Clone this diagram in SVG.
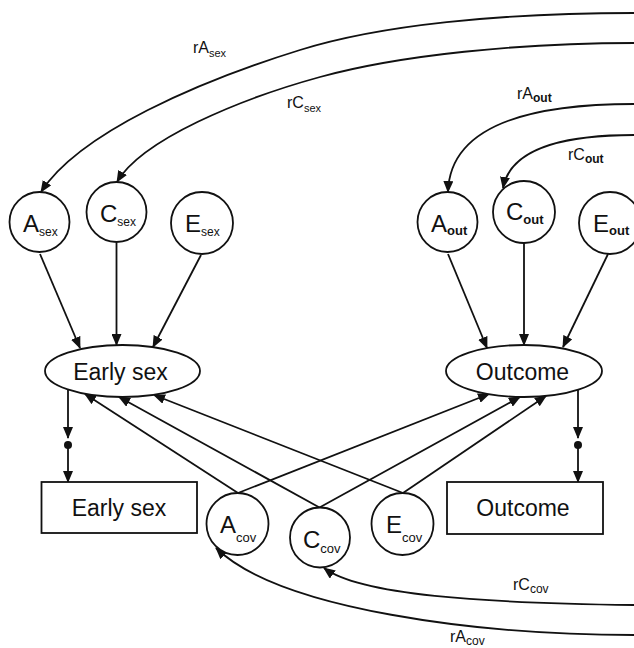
<svg xmlns="http://www.w3.org/2000/svg" width="634" height="648" viewBox="0 0 634 648">
<defs>
<marker id="ah" markerUnits="userSpaceOnUse" markerWidth="12" markerHeight="10" viewBox="0 0 12 10" refX="11" refY="5" orient="auto">
<path d="M0,0 L12,5 L0,10 Z" fill="#111"/>
</marker>
</defs>
<style>
.nd{fill:#fff;stroke:#111;stroke-width:1.8}
.ln{fill:none;stroke:#111;stroke-width:1.8;marker-end:url(#ah)}
.t{font-family:"Liberation Sans",Arial,sans-serif;fill:#111}
.big{font-size:23px}
.nl{font-size:24px}
.sub{font-size:12px}
.subb{font-size:13px;font-weight:bold}
.subc{font-size:13px}
.lab{font-size:16px}
.ls{font-size:11px}
.lo{font-size:12px;font-weight:bold}
.lc{font-size:12px}
</style>

<g id="connectors">
<path class="ln" d="M634,13 C500,13 380,25 300,50 C200,81 79.5,132.5 41,192"/>
<path class="ln" d="M634,43 C520,43 400,55 320,77 C240,99 142,139.5 117,182"/>
<path class="ln" d="M634,104 C530,104 450,125 448,192"/>
<path class="ln" d="M634,135 C560,135 510,150 503,188"/>
<path class="ln" d="M634,605 C480,603 360,595 324,568"/>
<path class="ln" d="M634,635 C480,635 280,610 216,548"/>
<line class="ln" x1="40" y1="254" x2="80" y2="348"/>
<line class="ln" x1="116.5" y1="243" x2="116.5" y2="345"/>
<line class="ln" x1="201" y1="255" x2="153" y2="347"/>
<line class="ln" x1="448" y1="254" x2="487" y2="348"/>
<line class="ln" x1="524" y1="243" x2="524" y2="345"/>
<line class="ln" x1="608" y1="254" x2="563" y2="347"/>
<line class="ln" x1="238" y1="493" x2="85" y2="394"/>
<line class="ln" x1="238" y1="493" x2="489" y2="394"/>
<line class="ln" x1="319.5" y1="507.5" x2="119" y2="397"/>
<line class="ln" x1="319.5" y1="507.5" x2="520" y2="397"/>
<line class="ln" x1="403" y1="493" x2="154" y2="395"/>
<line class="ln" x1="403" y1="493" x2="546" y2="396"/>
<line class="ln" x1="68" y1="389.5" x2="68" y2="438"/>
<circle cx="68" cy="445" r="4" fill="#111"/>
<line class="ln" x1="68" y1="445" x2="68" y2="482"/>
<line class="ln" x1="578" y1="390" x2="578" y2="438"/>
<circle cx="578" cy="445" r="4" fill="#111"/>
<line class="ln" x1="578" y1="445" x2="578" y2="482"/>
<text class="t lab" x="193" y="53">rA<tspan class="ls" dy="4">sex</tspan></text>
<text class="t lab" x="287" y="108">rC<tspan class="ls" dy="4">sex</tspan></text>
<text class="t lab" x="517" y="99">rA<tspan class="lo" dy="3">out</tspan></text>
<text class="t lab" x="568" y="160">rC<tspan class="lo" dy="3">out</tspan></text>
<text class="t lab" x="513" y="590">rC<tspan class="lc" dy="3">cov</tspan></text>
<text class="t lab" x="450" y="642">rA<tspan class="lc" dy="3">cov</tspan></text>
</g>

<g id="A_sex"><circle class="nd" cx="39.5" cy="222" r="30"/><text class="t nl" x="23" y="232">A<tspan class="sub" dy="4">sex</tspan></text></g>
<g id="C_sex"><circle class="nd" cx="116.5" cy="212" r="30"/><text class="t nl" x="100" y="222">C<tspan class="sub" dy="4">sex</tspan></text></g>
<g id="E_sex"><circle class="nd" cx="202" cy="223" r="31"/><text class="t nl" x="185" y="232">E<tspan class="sub" dy="4">sex</tspan></text></g>

<g id="A_out"><circle class="nd" cx="447.5" cy="222" r="30"/><text class="t nl" x="431" y="232">A<tspan class="subb" dy="3">out</tspan></text></g>
<g id="C_out"><circle class="nd" cx="524" cy="212" r="31"/><text class="t nl" x="506" y="220">C<tspan class="subb" dy="4">out</tspan></text></g>
<g id="E_out"><circle class="nd" cx="610" cy="223" r="31"/><text class="t nl" x="593" y="232">E<tspan class="subb" dy="3">out</tspan></text></g>

<g id="EarlySexLatent"><ellipse class="nd" cx="122.5" cy="371" rx="77.5" ry="26"/><text class="t big" x="120.5" y="380" text-anchor="middle">Early sex</text></g>
<g id="OutcomeLatent"><ellipse class="nd" cx="524" cy="371" rx="78" ry="26"/><text class="t big" x="522.5" y="380" text-anchor="middle">Outcome</text></g>

<g id="EarlySexObs"><rect class="nd" x="41.5" y="482" width="155.5" height="51"/><text class="t big" x="119" y="516" text-anchor="middle">Early sex</text></g>
<g id="OutcomeObs"><rect class="nd" x="447" y="482" width="156" height="52"/><text class="t big" x="523" y="516" text-anchor="middle">Outcome</text></g>

<g id="A_cov"><circle class="nd" cx="237.5" cy="524" r="31"/><text class="t nl" x="220" y="533">A<tspan class="subc" dy="9">cov</tspan></text></g>
<g id="C_cov"><circle class="nd" cx="320" cy="537.5" r="30"/><text class="t nl" x="303" y="548">C<tspan class="subc" dy="5">cov</tspan></text></g>
<g id="E_cov"><circle class="nd" cx="402.5" cy="524" r="31"/><text class="t nl" x="386" y="533">E<tspan class="subc" dy="9">cov</tspan></text></g>
</svg>
